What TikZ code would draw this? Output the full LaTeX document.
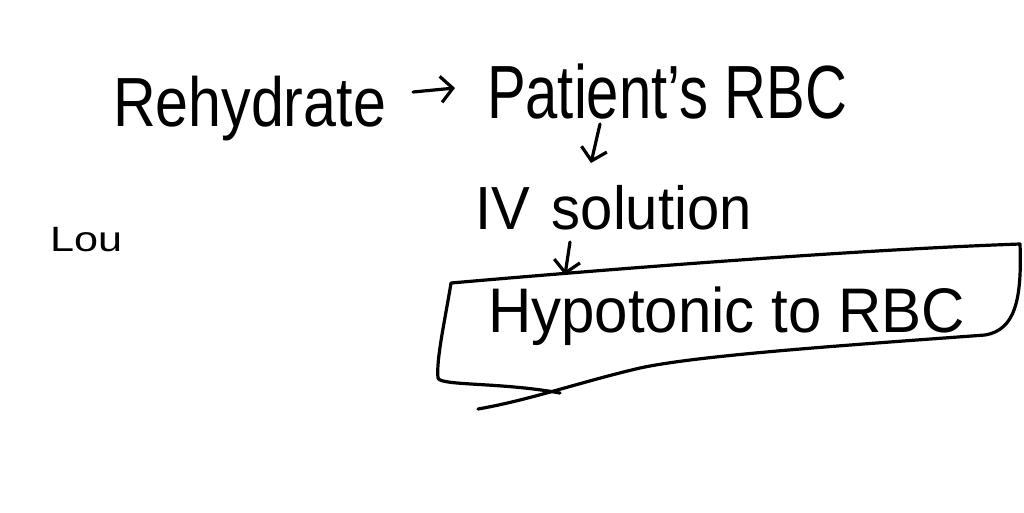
\documentclass[tikz,border=0pt]{standalone}
\usepackage{fontspec}
\setmainfont{Liberation Sans}
\usetikzlibrary{arrows.meta,calc}
\begin{document}
\begin{tikzpicture}[x=1pt,y=-1pt,
  hand/.style={line width=3.2pt,line cap=round,line join=round,black},
  arr/.style={hand,-{Straight Barb[length=12pt,width=26pt]}},
  lbl/.style={inner sep=0pt,outer sep=0pt,anchor=base west,text=black}]
\fill[white] (0,0) rectangle (1024,512);
\useasboundingbox (0,0) rectangle (1024,512);
\node[lbl,font=\fontsize{58}{60}\selectfont,xscale=1.02,yscale=1.2] (reh) at (113,126) {Rehydrate};
\node[lbl,font=\fontsize{58}{60}\selectfont,yscale=1.3] (pat) at (487,118) {Patient's RBC};
\node[lbl,font=\fontsize{58}{60}\selectfont,yscale=1.05] (iv) at (475,229) {IV\hspace{22pt}solution};
\node[lbl,font=\fontsize{60}{62}\selectfont,yscale=1.05] (hyp) at (488,332) {Hypotonic to RBC};
\node[lbl,font=\fontsize{32}{34}\selectfont,xscale=1.35,yscale=1.1] (lou) at (50,251) {Lou};
% connectors
\draw[arr] ($(pat.base west)+(-74,-26)$) -- ($(pat.base west)+(-32,-30)$);
\draw[arr] ($(pat.base west)+(113,6)$) -- ($(iv.base west)+(116,-66)$);
\draw[arr] ($(iv.base west)+(95,13)$) -- ($(hyp.base west)+(77,-57)$);
% hand-drawn box
\draw[hand] (451,283) .. controls (600,270) and (850,250) .. (1020,244)
  .. controls (1022,300) and (1015,330) .. (985,335)
  .. controls (850,345) and (700,355) .. (640,368)
  .. controls (580,382) and (530,400) .. (478,409);
\draw[hand] (451,283) .. controls (445,320) and (436,360) .. (438,378)
  .. controls (440,386) and (500,382) .. (560,393);
\end{tikzpicture}
\end{document}
